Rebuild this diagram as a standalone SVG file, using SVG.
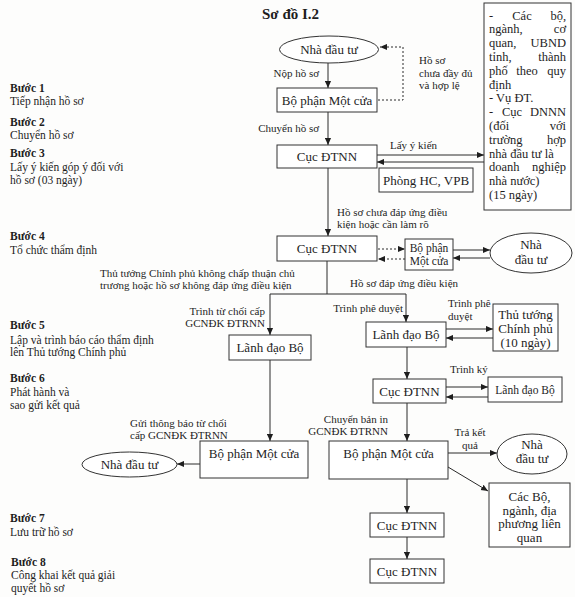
<svg xmlns="http://www.w3.org/2000/svg" width="575" height="597" viewBox="0 0 575 597">
<style>
text{font-family:"Liberation Serif","Times New Roman",serif;fill:#1e1e1e}
.t{font-size:15px;font-weight:bold}
.n{font-size:13px;text-anchor:middle}
.ns{font-size:11.5px;text-anchor:middle}
.r{font-size:12.5px}
.l{font-size:11px}
.s{font-size:11.5px}
.sb{font-size:11.5px;font-weight:bold}
.box{fill:#fff;stroke:#333;stroke-width:1}
.c{fill:none;stroke:#2a2a2a;stroke-width:1}
.d{fill:none;stroke:#2a2a2a;stroke-width:1;stroke-dasharray:2,2}
</style>
<defs>
<marker id="ah" viewBox="0 0 8 8" refX="8" refY="4" markerWidth="7" markerHeight="7" orient="auto" markerUnits="userSpaceOnUse"><path d="M0,0.5 L8,4 L0,7.5z" fill="#1e1e1e"/></marker>
</defs>
<rect width="575" height="597" fill="#fdfdfc"/>
<text class="t" x="262" y="19">Sơ đồ I.2</text>

<g id="steps">
<text class="sb" x="10" y="92">Bước 1</text><text class="s" x="10" y="105">Tiếp nhận hồ sơ</text>
<text class="sb" x="10" y="126">Bước 2</text><text class="s" x="10" y="139">Chuyển hồ sơ</text>
<text class="sb" x="10" y="157">Bước 3</text><text class="s" x="10" y="171">Lấy ý kiến góp ý đối với</text><text class="s" x="10" y="184">hồ sơ (03 ngày)</text>
<text class="sb" x="10" y="240">Bước 4</text><text class="s" x="10" y="254">Tổ chức thẩm định</text>
<text class="sb" x="10" y="329">Bước 5</text><text class="s" x="10" y="344">Lập và trình báo cáo thẩm định</text><text class="s" x="10" y="356">lên Thủ tướng Chính phủ</text>
<text class="sb" x="10" y="382">Bước 6</text><text class="s" x="10" y="396">Phát hành và</text><text class="s" x="10" y="409">sao gửi kết quả</text>
<text class="sb" x="10" y="522">Bước 7</text><text class="s" x="10" y="536">Lưu trữ hồ sơ</text>
<text class="sb" x="11" y="566">Bước 8</text><text class="s" x="11" y="579">Công khai kết quả giải</text><text class="s" x="11" y="592">quyết hồ sơ</text>
</g>

<g id="connectors">
<path class="c" d="M328,63 V88" marker-end="url(#ah)"/>
<path class="d" d="M378,100 H403 V47 H380" marker-end="url(#ah)"/>
<path class="c" d="M328,112 V145" marker-end="url(#ah)"/>
<path class="c" d="M377,155 H484" marker-end="url(#ah)"/>
<path class="c" d="M484,162 H377" marker-end="url(#ah)"/>
<path class="c" d="M328,168 V236" marker-end="url(#ah)"/>
<path class="d" d="M378,249 H405" marker-end="url(#ah)"/>
<path class="d" d="M405,259 H378" marker-end="url(#ah)"/>
<path class="c" d="M453,250 H490" marker-end="url(#ah)"/>
<path class="c" d="M490,258 H453" marker-end="url(#ah)"/>
<path class="c" d="M327,261 V294 M270,294 H406"/>
<path class="c" d="M270,294 V335" marker-end="url(#ah)"/>
<path class="c" d="M406,294 V322" marker-end="url(#ah)"/>
<path class="c" d="M446,329 H493" marker-end="url(#ah)"/>
<path class="c" d="M493,338 H446" marker-end="url(#ah)"/>
<path class="c" d="M407,347 V379" marker-end="url(#ah)"/>
<path class="c" d="M446,387 H488" marker-end="url(#ah)"/>
<path class="c" d="M488,397 H446" marker-end="url(#ah)"/>
<path class="c" d="M407,403 V441" marker-end="url(#ah)"/>
<path class="c" d="M448,453 H497" marker-end="url(#ah)"/>
<path class="c" d="M448,467 L488,491" marker-end="url(#ah)"/>
<path class="c" d="M407,479 V513" marker-end="url(#ah)"/>
<path class="c" d="M407,537 V559" marker-end="url(#ah)"/>
<path class="c" d="M270,360 V441" marker-end="url(#ah)"/>
<path class="c" d="M200,464 H177" marker-end="url(#ah)"/>
</g>

<g id="labels">
<text class="l" x="319" y="77" text-anchor="end">Nộp hồ sơ</text>
<text class="l" x="419" y="64">Hồ sơ</text><text class="l" x="419" y="77">chưa đầy đủ</text><text class="l" x="419" y="89">và hợp lệ</text>
<text class="l" x="319" y="132" text-anchor="end">Chuyển hồ sơ</text>
<text class="l" x="390" y="149">Lấy ý kiến</text>
<text class="l" x="337" y="216">Hồ sơ chưa đáp ứng điều</text><text class="l" x="337" y="228">kiện hoặc cần làm rõ</text>
<text class="l" x="100" y="277">Thủ tướng Chính phủ không chấp thuận chủ</text><text class="l" x="100" y="289">trương hoặc hồ sơ không đáp ứng điều kiện</text>
<text class="l" x="350" y="287">Hồ sơ đáp ứng điều kiện</text>
<text class="l" x="265" y="315" text-anchor="end">Trình từ chối cấp</text><text class="l" x="265" y="327" text-anchor="end">GCNĐK ĐTRNN</text>
<text class="l" x="403" y="312" text-anchor="end">Trình phê duyệt</text>
<text class="l" x="448" y="307">Trình phê</text><text class="l" x="448" y="320">duyệt</text>
<text class="l" x="450" y="373">Trình ký</text>
<text class="l" x="130" y="427">Gửi thông báo từ chối</text><text class="l" x="130" y="439">cấp GCNĐK ĐTRNN</text>
<text class="l" x="388" y="423" text-anchor="end">Chuyển bản in</text><text class="l" x="388" y="435" text-anchor="end">GCNĐK ĐTRNN</text>
<text class="l" x="470" y="436" text-anchor="middle">Trả kết</text><text class="l" x="470" y="449" text-anchor="middle">quả</text>
</g>

<g id="n-nhadautu1"><ellipse class="box" cx="329" cy="49.5" rx="49.5" ry="13.5"/><text class="n" x="329" y="54">Nhà đầu tư</text></g>
<g id="n-bophan1"><rect class="box" x="277" y="88" width="100" height="24"/><text class="n" x="327" y="104.5">Bộ phận Một cửa</text></g>
<g id="n-cuc1"><rect class="box" x="277" y="145" width="100" height="23"/><text class="n" x="327" y="161">Cục ĐTNN</text></g>
<g id="n-phonghc"><rect class="box" x="379" y="168" width="94" height="24"/><text class="n" x="426" y="184.5">Phòng HC, VPB</text></g>
<g id="n-cacbo"><rect class="box" x="484" y="3" width="87" height="207"/>
<g class="r">
<text x="489" y="19.5">-</text><text x="522" y="19.5" text-anchor="middle">Các</text><text x="566" y="19.5" text-anchor="end">bộ,</text>
<text x="489" y="33.3">ngành,</text><text x="566" y="33.3" text-anchor="end">cơ</text>
<text x="489" y="47.1">quan,</text><text x="566" y="47.1" text-anchor="end">UBND</text>
<text x="489" y="60.9">tỉnh,</text><text x="566" y="60.9" text-anchor="end">thành</text>
<text x="489" y="74.7">phố</text><text x="527" y="74.7" text-anchor="middle">theo</text><text x="566" y="74.7" text-anchor="end">quy</text>
<text x="489" y="88.5">định</text>
<text x="489" y="102.3">- Vụ ĐT.</text>
<text x="489" y="116.1">-</text><text x="512" y="116.1" text-anchor="middle">Cục</text><text x="566" y="116.1" text-anchor="end">DNNN</text>
<text x="489" y="129.9">(đối</text><text x="566" y="129.9" text-anchor="end">với</text>
<text x="489" y="143.7">trường</text><text x="566" y="143.7" text-anchor="end">hợp</text>
<text x="489" y="157.5">nhà đầu tư là</text>
<text x="489" y="171.3">doanh</text><text x="566" y="171.3" text-anchor="end">nghiệp</text>
<text x="489" y="185.1">nhà nước)</text>
<text x="489" y="198.9">(15 ngày)</text>
</g></g>
<g id="n-cuc2"><rect class="box" x="277" y="236" width="100" height="25"/><text class="n" x="327" y="253">Cục ĐTNN</text></g>
<g id="n-bophan2"><rect class="box" x="405" y="239" width="48" height="31"/><text class="ns" x="429" y="252">Bộ phận</text><text class="ns" x="429" y="265">Một cửa</text></g>
<g id="n-nhadautu2"><ellipse class="box" cx="531" cy="253" rx="41" ry="20"/><text class="n" x="531" y="249">Nhà</text><text class="n" x="531" y="264">đầu tư</text></g>
<g id="n-lanhdao1"><rect class="box" x="229" y="335" width="82" height="25"/><text class="n" x="270" y="352">Lãnh đạo Bộ</text></g>
<g id="n-lanhdao2"><rect class="box" x="366" y="322" width="80" height="25"/><text class="n" x="406" y="339">Lãnh đạo Bộ</text></g>
<g id="n-thutuong"><rect class="box" x="493" y="304" width="65" height="47"/><text class="n" x="525.5" y="319">Thủ tướng</text><text class="n" x="525.5" y="333">Chính phủ</text><text class="n" x="525.5" y="347">(10 ngày)</text></g>
<g id="n-cuc3"><rect class="box" x="373" y="379" width="73" height="24"/><text class="n" x="409.5" y="395.5">Cục ĐTNN</text></g>
<g id="n-lanhdao3"><rect class="box" x="488" y="377" width="74" height="25"/><text class="ns" x="525" y="393.5">Lãnh đạo Bộ</text></g>
<g id="n-bophan3"><rect class="box" x="200" y="441" width="108" height="37"/><text class="n" x="254" y="457.5">Bộ phận Một cửa</text></g>
<g id="n-nhadautu3"><ellipse class="box" cx="129.5" cy="464.5" rx="47.5" ry="12.5"/><text class="n" x="129.5" y="469">Nhà đầu tư</text></g>
<g id="n-bophan4"><rect class="box" x="329" y="441" width="119" height="38"/><text class="n" x="388.5" y="457.5">Bộ phận Một cửa</text></g>
<g id="n-nhadautu4"><ellipse class="box" cx="532" cy="454" rx="35" ry="20"/><text class="n" x="532" y="449">Nhà</text><text class="n" x="532" y="463">đầu tư</text></g>
<g id="n-cacbo2"><rect class="box" x="489" y="483" width="81" height="64"/><text class="n" x="529.5" y="501">Các Bộ,</text><text class="n" x="529.5" y="514.5">ngành, địa</text><text class="n" x="529.5" y="528">phương liên</text><text class="n" x="529.5" y="541.5">quan</text></g>
<g id="n-cuc4"><rect class="box" x="370" y="513" width="74" height="24"/><text class="n" x="407" y="529.5">Cục ĐTNN</text></g>
<g id="n-cuc5"><rect class="box" x="370" y="559" width="74" height="24"/><text class="n" x="407" y="575.5">Cục ĐTNN</text></g>
</svg>
